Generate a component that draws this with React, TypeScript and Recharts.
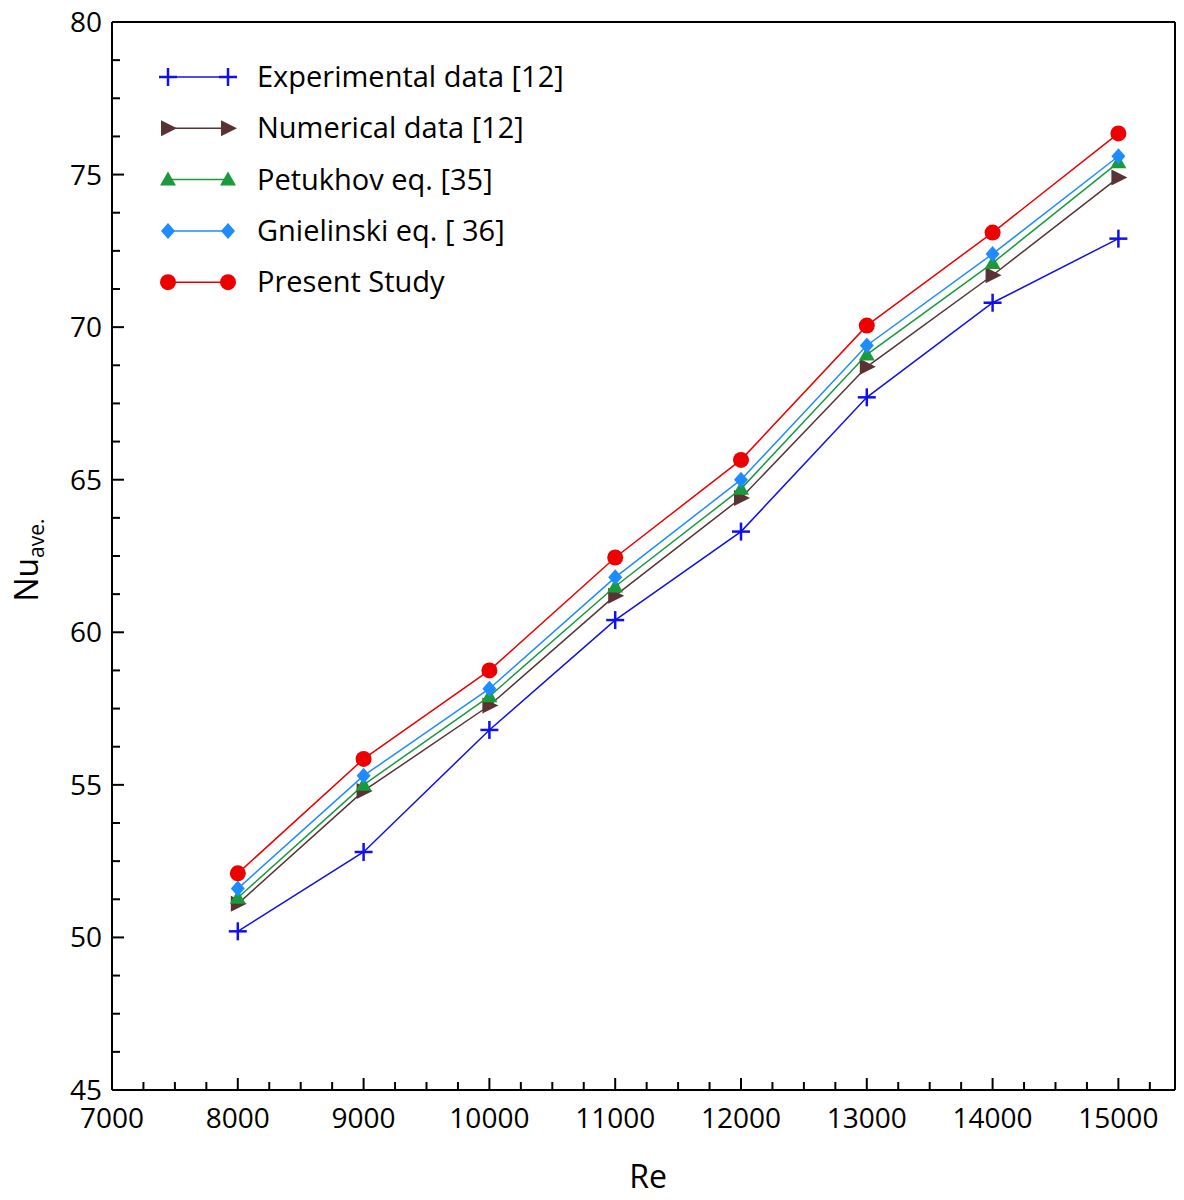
import React from "react";
import { LineChart, Line, XAxis, YAxis, ReferenceLine } from "recharts";

const re = [8000, 9000, 10000, 11000, 12000, 13000, 14000, 15000];
const experimental = [50.2, 52.8, 56.8, 60.4, 63.3, 67.7, 70.8, 72.9];
const numerical = [51.1, 54.8, 57.6, 61.2, 64.4, 68.7, 71.7, 74.9];
const petukhov = [51.3, 55.0, 57.9, 61.5, 64.7, 69.1, 72.1, 75.4];
const gnielinski = [51.6, 55.3, 58.15, 61.8, 65.0, 69.4, 72.4, 75.6];
const present = [52.1, 55.85, 58.75, 62.45, 65.65, 70.05, 73.1, 76.35];

const xTicks: number[] = [];
for (let v = 7000; v <= 15250; v += 250) xTicks.push(v);
const yTicks: number[] = [];
for (let v = 45; v <= 80; v += 1.25) yTicks.push(v);

const data = re.map((r, i) => ({
  re: r,
  exp: experimental[i],
  num: numerical[i],
  pet: petukhov[i],
  gni: gnielinski[i],
  pre: present[i],
}));

const font = "'Open Sans', sans-serif";

const shape = (kind: string, color: string, cx: number, cy: number) => {
  if (kind === "plus")
    return (
      <g stroke={color} strokeWidth={2.5}>
        <line x1={cx - 9} x2={cx + 9} y1={cy} y2={cy} />
        <line x1={cx} x2={cx} y1={cy - 9} y2={cy + 9} />
      </g>
    );
  if (kind === "right")
    return <polygon points={`${cx - 7},${cy - 8} ${cx + 9},${cy} ${cx - 7},${cy + 8}`} fill={color} />;
  if (kind === "tri")
    return <polygon points={`${cx},${cy - 8} ${cx + 8},${cy + 6} ${cx - 8},${cy + 6}`} fill={color} />;
  if (kind === "diamond")
    return <polygon points={`${cx},${cy - 8} ${cx + 7},${cy} ${cx},${cy + 8} ${cx - 7},${cy}`} fill={color} />;
  return <circle cx={cx} cy={cy} r={8} fill={color} />;
};

const series = [
  { key: "exp", name: "Experimental data [12]", color: "#1010ee", kind: "plus" },
  { key: "num", name: "Numerical data [12]", color: "#5a3232", kind: "right" },
  { key: "pet", name: "Petukhov eq. [35]", color: "#1a9a3a", kind: "tri" },
  { key: "gni", name: "Gnielinski eq. [ 36]", color: "#1e8cff", kind: "diamond" },
  { key: "pre", name: "Present Study", color: "#ee0000", kind: "circle" },
];

const XTick = (props: any) => {
  const { x, y, payload } = props;
  const major = payload.value % 1000 === 0;
  return (
    <g>
      <line x1={x} x2={x} y1={y} y2={y - (major ? 12 : 8)} stroke="#000" strokeWidth={2} />
      {major && (
        <text x={x} y={y + 38} textAnchor="middle" fontSize={28} fontFamily={font} fill="#000">
          {payload.value}
        </text>
      )}
    </g>
  );
};

const YTick = (props: any) => {
  const { x, y, payload } = props;
  const major = payload.value % 5 === 0;
  return (
    <g>
      <line x1={x} x2={x + (major ? 12 : 8)} y1={y} y2={y} stroke="#000" strokeWidth={2} />
      {major && (
        <text x={x - 10} y={y + 10} textAnchor="end" fontSize={28} fontFamily={font} fill="#000">
          {payload.value}
        </text>
      )}
    </g>
  );
};

export default function App() {
  return (
    <div style={{ position: "absolute", left: 0, top: 0, width: 1184, height: 1200, background: "#fff" }}>
      <LineChart width={1184} height={1200} data={data} margin={{ top: 22, right: 9, left: 0, bottom: 0 }}>
        <XAxis
          dataKey="re"
          type="number"
          domain={[7000, 15450]}
          ticks={xTicks}
          interval={0}
          tick={<XTick />}
          tickLine={false}
          tickSize={0}
          tickMargin={0}
          height={110}
          axisLine={{ stroke: "#000", strokeWidth: 2 }}
        />
        <YAxis
          type="number"
          domain={[45, 80]}
          ticks={yTicks}
          interval={0}
          tick={<YTick />}
          tickLine={false}
          tickSize={0}
          tickMargin={0}
          width={112}
          axisLine={{ stroke: "#000", strokeWidth: 2 }}
        />
        <ReferenceLine y={80} stroke="#000" strokeWidth={2} />
        <ReferenceLine x={15450} stroke="#000" strokeWidth={2} />
        {series.map((s) => (
          <Line
            key={s.key}
            dataKey={s.key}
            stroke={s.color}
            strokeWidth={1.5}
            isAnimationActive={false}
            dot={(p: any) => <g key={p.index}>{shape(s.kind, s.color, p.cx, p.cy)}</g>}
            activeDot={false}
          />
        ))}
      </LineChart>
      <svg width={1184} height={1200} style={{ position: "absolute", left: 0, top: 0, pointerEvents: "none" }}>
        {series.map((s, i) => {
          const y = 77 + i * 51.3;
          return (
            <g key={s.key}>
              <line x1={168} x2={228} y1={y} y2={y} stroke={s.color} strokeWidth={1.5} />
              {shape(s.kind, s.color, 168, y)}
              {shape(s.kind, s.color, 228, y)}
              <text x={257} y={y + 10} fontSize={29} fontFamily={font} fill="#000">
                {s.name}
              </text>
            </g>
          );
        })}
        <text x={648} y={1188} textAnchor="middle" fontSize={32} fontFamily={font} fill="#000">
          Re
        </text>
        <text transform="translate(38 560) rotate(-90)" textAnchor="middle" fontSize={32} fontFamily={font} fill="#000">
          Nu<tspan fontSize={21} dy={6}>ave.</tspan>
        </text>
      </svg>
    </div>
  );
}
